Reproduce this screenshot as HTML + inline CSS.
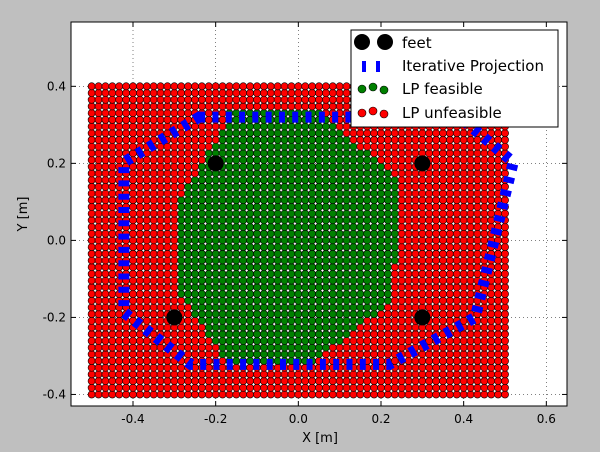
<!DOCTYPE html>
<html><head><meta charset="utf-8"><style>
html,body{margin:0;padding:0;background:#bfbfbf;}
svg{display:block;font-family:"DejaVu Sans","Liberation Sans",sans-serif;}
</style></head><body>
<svg id="chart" width="600" height="452" viewBox="0 0 600 452">
<rect x="0" y="0" width="600" height="452" fill="#bfbfbf"/>
<rect x="71" y="22" width="496" height="384" fill="#fff"/>
<g id="grid"></g>
<g id="points"></g>
<g id="proj"></g>
<g id="feet"></g>
<rect x="71" y="22" width="496" height="384" fill="none" stroke="#000" stroke-width="1"/>
<g id="ticks"></g>
<text x="320" y="442" font-size="13" text-anchor="middle">X [m]</text>
<text x="27" y="214" font-size="13" text-anchor="middle" transform="rotate(-90 27 214)">Y [m]</text>
<g>
<rect x="351" y="30" width="207" height="97" fill="#fff" stroke="#000" stroke-width="1"/>
<g>
<circle cx="362" cy="42" r="8" fill="#000"/><circle cx="385" cy="42" r="8" fill="#000"/>
<text x="402" y="48" font-size="15">feet</text></g>
<g>
<rect x="362" y="61" width="4" height="11" fill="#0000ff"/><rect x="376" y="61" width="4" height="11" fill="#0000ff"/>
<text x="402" y="71" font-size="15">Iterative Projection</text></g>
<g>
<circle cx="362" cy="89" r="4" fill="#008000" stroke="#000" stroke-width="0.6"/><circle cx="373" cy="87" r="4" fill="#008000" stroke="#000" stroke-width="0.6"/><circle cx="384" cy="90" r="4" fill="#008000" stroke="#000" stroke-width="0.6"/>
<text x="402" y="94" font-size="15">LP feasible</text></g>
<g>
<circle cx="362" cy="113" r="4" fill="#ff0000" stroke="#000" stroke-width="0.6"/><circle cx="373" cy="111" r="4" fill="#ff0000" stroke="#000" stroke-width="0.6"/><circle cx="384" cy="114" r="4" fill="#ff0000" stroke="#000" stroke-width="0.6"/>
<text x="402" y="118" font-size="15">LP unfeasible</text></g>
</g>
</svg>
<script>
const xTicks = [-0.4, -0.2, 0.0, 0.2, 0.4, 0.6];
const yTicks = [-0.4, -0.2, 0.0, 0.2, 0.4];
const feetX = [-0.2, 0.3, -0.3, 0.3];
const feetY = [0.2, 0.2, -0.2, -0.2];
const projX = [-0.24, 0.39, 0.52, 0.428, 0.22, -0.26, -0.422, -0.422];
const projY = [0.32, 0.32, 0.203, -0.2, -0.322, -0.322, -0.187, 0.203];
const feasX = [-0.17, 0.05, 0.25, 0.25, 0.235, 0.225, 0.03, -0.17, -0.285, -0.285, -0.176];
const feasY = [0.335, 0.335, 0.15, 0.06, -0.05, -0.16, -0.318, -0.318, -0.14, 0.115, 0.293];
const gridXMin = -0.5, gridXMax = 0.5, gridXCount = 61;
const gridYMin = -0.4, gridYMax = 0.4, gridYCount = 47;

const X0=71,X1=567,Y0=22,Y1=406, XMIN=-0.55,XMAX=0.65,YMIN=-0.43,YMAX=0.567;
const sx=v=>X0+(v-XMIN)/(XMAX-XMIN)*(X1-X0);
const sy=v=>Y1-(v-YMIN)/(YMAX-YMIN)*(Y1-Y0);
const NS='http://www.w3.org/2000/svg';
function mk(tag,attrs,parent){const e=document.createElementNS(NS,tag);for(const k in attrs)e.setAttribute(k,attrs[k]);parent.appendChild(e);return e;}
const grid=document.getElementById('grid'),ticks=document.getElementById('ticks');
xTicks.forEach(t=>{const x=sx(t);
 const g=mk('line',{x1:x,x2:x,y1:Y0,y2:Y1,stroke:'#000','stroke-width':0.5,'stroke-dasharray':'1 3'},grid);
 
 
 const a=mk('line',{x1:x,x2:x,y1:Y1,y2:Y1-5,stroke:'#000'},ticks);
 
 
 const b=mk('line',{x1:x,x2:x,y1:Y0,y2:Y0+5,stroke:'#000'},ticks);
 
 
 const l=mk('text',{x:x,y:Y1+17,'font-size':12,'text-anchor':'middle'},ticks);
 l.textContent=t.toFixed(1);
 
 
});
yTicks.forEach(t=>{const y=sy(t);
 const g=mk('line',{x1:X0,x2:X1,y1:y,y2:y,stroke:'#000','stroke-width':0.5,'stroke-dasharray':'1 3'},grid);
 
 
 const a=mk('line',{x1:X0,x2:X0+5,y1:y,y2:y,stroke:'#000'},ticks);
 
 
 const b=mk('line',{x1:X1,x2:X1-5,y1:y,y2:y,stroke:'#000'},ticks);
 
 
 const l=mk('text',{x:X0-5,y:y+4,'font-size':12,'text-anchor':'end'},ticks);
 l.textContent=t.toFixed(1);
 
 
});
function inside(px,py,xs,ys){let c=false;for(let i=0,j=xs.length-1;i<xs.length;j=i++){
 if(((ys[i]>py)!=(ys[j]>py))&&(px<(xs[j]-xs[i])*(py-ys[i])/(ys[j]-ys[i])+xs[i]))c=!c;}return c;}
const pts=document.getElementById('points');
for(let j=0;j<gridYCount;j++){const yv=gridYMin+(gridYMax-gridYMin)*j/(gridYCount-1);
 for(let i=0;i<gridXCount;i++){const xv=gridXMin+(gridXMax-gridXMin)*i/(gridXCount-1);
  const f=inside(xv,yv,feasX,feasY);
  const c=mk('circle',{cx:sx(xv),cy:sy(yv),r:3.6,fill:f?'#008000':'#ff0000',stroke:'#000','stroke-width':0.6},pts);
  
  
 }}
const proj=document.getElementById('proj');
const d=projX.map((x,i)=>(i?'L':'M')+sx(x)+' '+sy(projY[i])).join(' ')+' Z';
const p=mk('path',{d:d,fill:'none',stroke:'#0000ff','stroke-width':11,'stroke-dasharray':'6 7.3','stroke-linejoin':'miter'},proj);


const feet=document.getElementById('feet');
feetX.forEach((x,i)=>{const c=mk('circle',{cx:sx(x),cy:sy(feetY[i]),r:8,fill:'#000'},feet);
 
 
});
</script>
</body></html>
